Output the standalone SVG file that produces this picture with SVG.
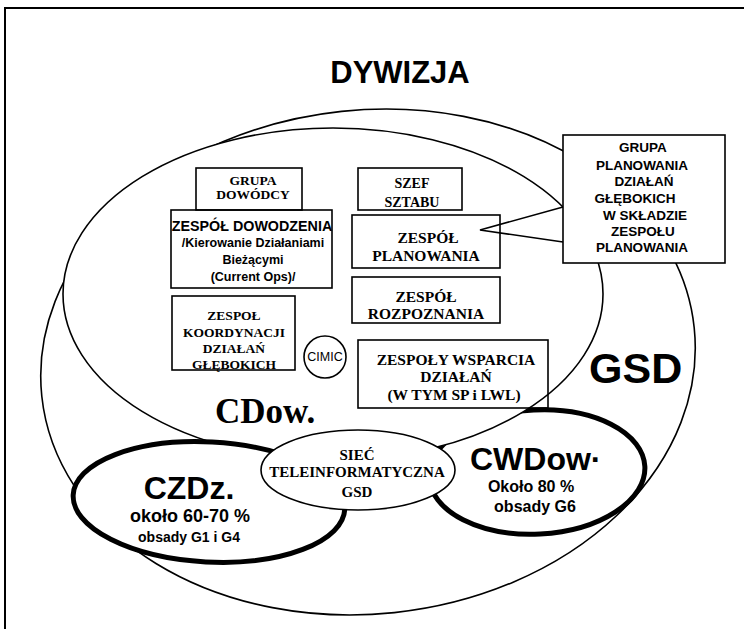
<svg xmlns="http://www.w3.org/2000/svg" width="744" height="629" viewBox="0 0 744 629">
  <style>
    .thin { fill: none; stroke: #000; stroke-width: 1.6; }
    .wfill { fill: #fff; stroke: #000; stroke-width: 1.6; }
    .thick { fill: #fff; stroke: #000; stroke-width: 5; }
    .box { fill: none; stroke: #000; stroke-width: 1.6; }
    .sans { font-family: "Liberation Sans", Arial, sans-serif; font-weight: bold; fill: #000; }
    .serif { font-family: "Liberation Serif", "Times New Roman", serif; font-weight: bold; fill: #000; }
    .mid { text-anchor: middle; }
  </style>
  <rect width="744" height="629" fill="#fff"/>

  <!-- page frame -->
  <g id="frame">
    <path d="M5,629 V8 H744" fill="none" stroke="#000" stroke-width="2"/>
  </g>

  <g id="title">
    <text class="sans mid" x="400" y="83" font-size="31">DYWIZJA</text>
  </g>

  <!-- GSD: outer ellipse -->
  <g id="gsd">
    <ellipse class="thin" cx="368" cy="362" rx="328" ry="252" transform="rotate(-6 368 362)"/>
    <text class="sans" x="589" y="383" font-size="43">GSD</text>
  </g>

  <!-- CWDow: main command post (its upper-left rim sits under CDow) -->
  <g id="cwdow">
    <ellipse class="thick" cx="537" cy="472" rx="108" ry="62" transform="rotate(-3 537 472)"/>
  </g>

  <!-- CDow: command ellipse with its cells -->
  <g id="cdow">
    <ellipse class="wfill" cx="333" cy="294" rx="270" ry="166"/>
    <text class="serif" x="215" y="423" font-size="35">CDow.</text>
  </g>

  <g id="grupa-dowodcy">
    <rect class="box" x="196" y="168" width="106" height="42"/>
    <text class="serif mid" x="253" y="185" font-size="13.5">GRUPA</text>
    <text class="serif mid" x="253" y="199" font-size="13.5">DOWÓDCY</text>
  </g>

  <g id="zespol-dowodzenia">
    <rect class="box" x="171" y="210" width="161" height="78"/>
    <text class="sans mid" x="252" y="231" font-size="14.3">ZESPÓŁ DOWODZENIA</text>
    <text class="sans mid" x="253" y="247" font-size="12.5">/Kierowanie Działaniami</text>
    <text class="sans mid" x="253" y="264" font-size="12.5">Bieżącymi</text>
    <text class="sans mid" x="253" y="281" font-size="12.5">(Current Ops)/</text>
  </g>

  <g id="szef-sztabu">
    <rect class="box" x="358" y="168" width="104" height="42"/>
    <text class="serif mid" x="412" y="188" font-size="14">SZEF</text>
    <text class="serif mid" x="412" y="207" font-size="14">SZTABU</text>
  </g>

  <g id="zespol-planowania">
    <rect class="box" x="352" y="215" width="148" height="53"/>
    <text class="serif mid" x="428" y="243" font-size="15.5">ZESPÓŁ</text>
    <text class="serif mid" x="426" y="261" font-size="15.5">PLANOWANIA</text>
  </g>

  <g id="zespol-rozpoznania">
    <rect class="box" x="352" y="277" width="148" height="46"/>
    <text class="serif mid" x="426" y="302" font-size="15.5">ZESPÓŁ</text>
    <text class="serif mid" x="426" y="319" font-size="15.5">ROZPOZNANIA</text>
  </g>

  <g id="zespol-koordynacji">
    <rect class="box" x="172" y="296" width="123" height="74"/>
    <text class="serif mid" x="234" y="320" font-size="13.5">ZESPOŁ</text>
    <text class="serif mid" x="234" y="337" font-size="13.5">KOORDYNACJI</text>
    <text class="serif mid" x="234" y="353" font-size="13.5">DZIAŁAŃ</text>
    <text class="serif mid" x="234" y="369" font-size="13.5">GŁĘBOKICH</text>
  </g>

  <g id="cimic">
    <circle class="wfill" cx="325" cy="357" r="21"/>
    <text x="325" y="361" font-family="Liberation Sans, Arial, sans-serif" font-size="12.5" text-anchor="middle">CIMIC</text>
  </g>

  <g id="zespoly-wsparcia">
    <rect class="box" x="358" y="340" width="190" height="68"/>
    <text class="serif mid" x="456" y="365" font-size="15.5">ZESPOŁY WSPARCIA</text>
    <text class="serif mid" x="456" y="382" font-size="15.5">DZIAŁAŃ</text>
    <text class="serif mid" x="454" y="400" font-size="15.5">(W TYM SP i LWL)</text>
  </g>

  <!-- callout on the planning cell -->
  <g id="grupa-planowania">
    <rect class="wfill" x="563" y="135" width="162" height="128"/>
    <text class="sans mid" x="643" y="152" font-size="13.5">GRUPA</text>
    <text class="sans mid" x="642" y="170" font-size="13.5">PLANOWANIA</text>
    <text class="sans mid" x="644" y="186" font-size="13.5">DZIAŁAŃ</text>
    <text class="sans mid" x="635" y="203" font-size="13.5">GŁĘBOKICH</text>
    <text class="sans mid" x="645" y="220" font-size="13.5">W SKŁADZIE</text>
    <text class="sans mid" x="643" y="236" font-size="13.5">ZESPOŁU</text>
    <text class="sans mid" x="642" y="252" font-size="13.5">PLANOWANIA</text>
  </g>

  <g id="connectors">
    <path class="thin" d="M563,207 L480,230 L563,242"/>
  </g>

  <!-- CZDz: rear command post -->
  <g id="czdz">
    <ellipse class="thick" cx="209" cy="502" rx="136" ry="60" transform="rotate(3 209 502)"/>
    <text class="sans mid" x="189" y="499" font-size="32">CZDz.</text>
    <text class="sans mid" x="190" y="522" font-size="18">około 60-70 %</text>
    <text class="sans mid" x="189" y="542" font-size="14">obsady G1 i G4</text>
  </g>

  <g id="cwdow-label">
    <text class="sans" x="470" y="470" font-size="32">CWDow·</text>
    <text class="sans mid" x="531" y="492" font-size="16">Około 80 %</text>
    <text class="sans mid" x="535" y="512" font-size="16">obsady G6</text>
  </g>

  <!-- network linking the posts -->
  <g id="siec">
    <ellipse class="wfill" cx="358" cy="470" rx="97" ry="40"/>
    <text class="serif mid" x="357" y="460" font-size="15">SIEĆ</text>
    <text class="serif mid" x="357" y="477" font-size="15">TELEINFORMATYCZNA</text>
    <text class="serif mid" x="357" y="497" font-size="15">GSD</text>
  </g>
</svg>
